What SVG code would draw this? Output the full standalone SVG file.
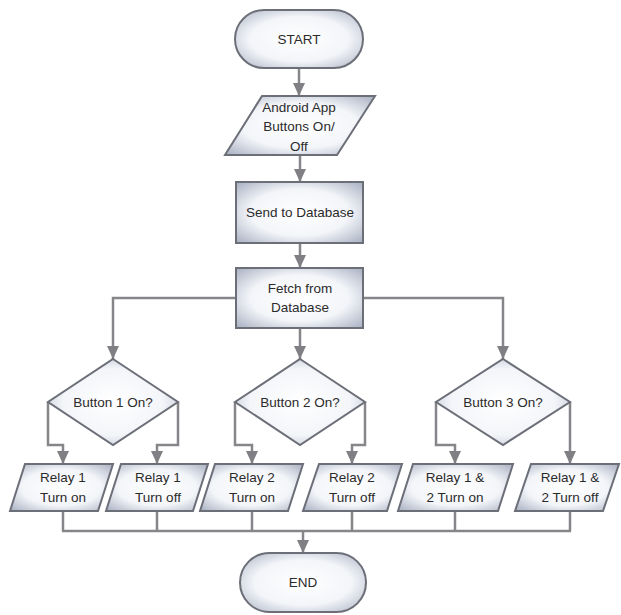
<svg xmlns="http://www.w3.org/2000/svg" width="621" height="615" viewBox="0 0 621 615">
<defs>
<radialGradient id="g" cx="0.5" cy="0.5" r="0.7">
<stop offset="0" stop-color="#ffffff"/>
<stop offset="0.55" stop-color="#f3f5f9"/>
<stop offset="1" stop-color="#a8b0c1"/>
</radialGradient>
<marker id="ah" markerUnits="userSpaceOnUse" markerWidth="14" markerHeight="12" viewBox="0 0 14 12" refX="13" refY="6" orient="auto">
<path d="M0,0 L13,6 L0,12 Z" fill="#808084"/>
</marker>
<style>
.n{fill:url(#g);stroke:#6c6f78;stroke-width:2}
.t{font-family:"Liberation Sans",Arial,sans-serif;font-size:13.5px;fill:#2b2b2b;text-anchor:middle}
.c{fill:none;stroke:#86868a;stroke-width:2.5}
.a{marker-end:url(#ah)}
</style>
</defs>
<rect width="621" height="615" fill="#ffffff"/>
<g id="connectors">
<path class="c a" d="M299,68 V96"/>
<path class="c a" d="M300,155 V182"/>
<path class="c a" d="M300,243 V268"/>
<path class="c a" d="M236,298 H113 V359"/>
<path class="c a" d="M300,328 V359"/>
<path class="c a" d="M363,298 H503 V359"/>
<path class="c a" d="M48,402 V445 H63 V464"/>
<path class="c a" d="M178,402 V445 H157 V464"/>
<path class="c a" d="M235,402 V445 H252 V464"/>
<path class="c a" d="M365,402 V445 H352 V464"/>
<path class="c a" d="M436,402 V445 H455 V464"/>
<path class="c a" d="M570,402 V464"/>
<path class="c" d="M63,511 V531 M157,511 V531 M252,511 V531 M352,511 V531 M455,511 V531 M570,511 V531 M62,531 H571"/>
<path class="c a" d="M303,531 V553"/>
</g>
<g id="start"><rect class="n" x="235" y="10" width="128" height="58" rx="29"/><text class="t" x="299" y="44">START</text></g>
<g id="input"><polygon class="n" points="262,96 375,96 337,155 225,155"/><text class="t" x="299" y="112">Android App</text><text class="t" x="299" y="131">Buttons On/</text><text class="t" x="299" y="151">Off</text></g>
<g id="send"><rect class="n" x="236" y="182" width="127" height="61"/><text class="t" x="300" y="217">Send to Database</text></g>
<g id="fetch"><rect class="n" x="236" y="268" width="127" height="60"/><text class="t" x="300" y="293">Fetch from</text><text class="t" x="300" y="312">Database</text></g>
<g id="btn1"><polygon class="n" points="113,359 178,402 113,445 48,402"/><text class="t" x="113" y="407">Button 1 On?</text></g>
<g id="btn2"><polygon class="n" points="300,359 365,402 300,445 235,402"/><text class="t" x="300" y="407">Button 2 On?</text></g>
<g id="btn3"><polygon class="n" points="503,359 570,402 503,445 436,402"/><text class="t" x="503" y="407">Button 3 On?</text></g>
<g id="r1"><polygon class="n" points="25,464 113,464 98,511 10,511"/><text class="t" x="63" y="482">Relay 1</text><text class="t" x="63" y="502">Turn on</text></g>
<g id="r2"><polygon class="n" points="121,464 208,464 193,511 106,511"/><text class="t" x="158" y="482">Relay 1</text><text class="t" x="158" y="502">Turn off</text></g>
<g id="r3"><polygon class="n" points="215,464 303,464 288,511 200,511"/><text class="t" x="252" y="482">Relay 2</text><text class="t" x="252" y="502">Turn on</text></g>
<g id="r4"><polygon class="n" points="319,464 402,464 387,511 303,511"/><text class="t" x="352" y="482">Relay 2</text><text class="t" x="352" y="502">Turn off</text></g>
<g id="r5"><polygon class="n" points="413,464 513,464 498,511 398,511"/><text class="t" x="455" y="482">Relay 1 &amp;</text><text class="t" x="455" y="502">2 Turn on</text></g>
<g id="r6"><polygon class="n" points="531,464 619,464 603,511 515,511"/><text class="t" x="570" y="482">Relay 1 &amp;</text><text class="t" x="570" y="502">2 Turn off</text></g>
<g id="end"><rect class="n" x="240" y="553" width="126" height="59" rx="29.5"/><text class="t" x="303" y="587">END</text></g>
</svg>
